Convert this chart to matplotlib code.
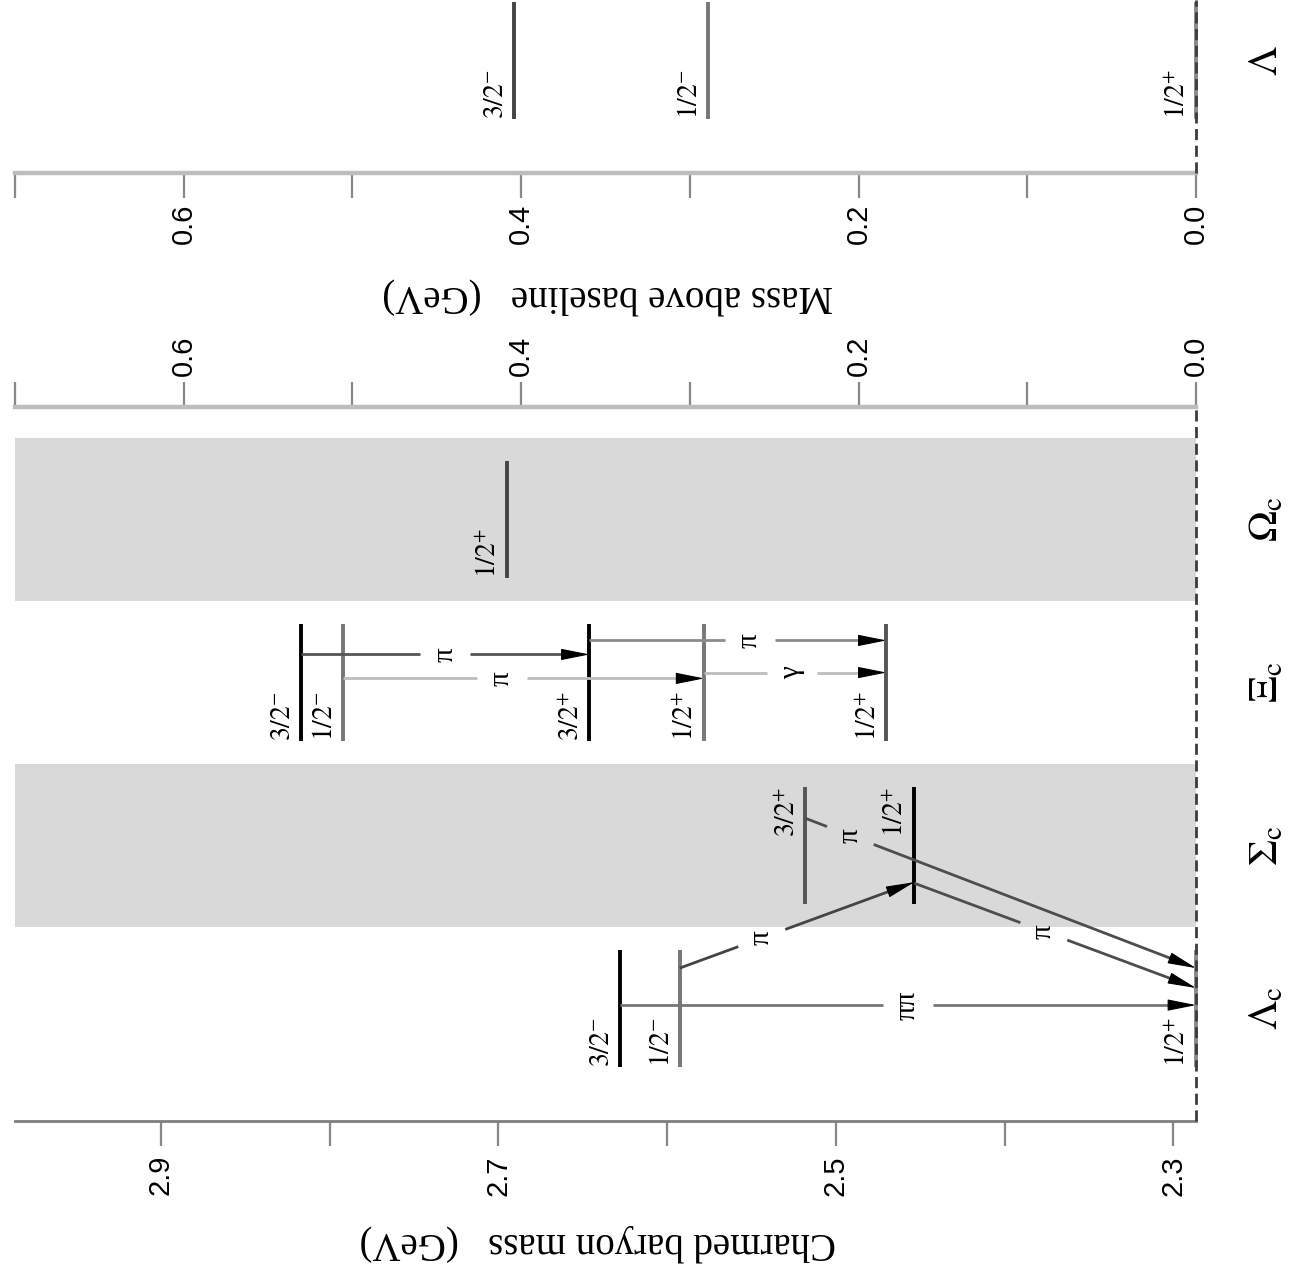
import matplotlib.pyplot as plt
from matplotlib.patches import FancyArrowPatch
import numpy as np

plt.rcParams['font.family'] = ['Liberation Serif', 'DejaVu Serif']
plt.rcParams['mathtext.fontset'] = 'stix'

# ---- data (masses in GeV) ----
m0 = 2.2865          # baseline = Lambda_c(2286)
span = 0.70          # mass range shown above the baseline

fam_names = [r'$\Lambda_{\rm c}$', r'$\Sigma_{\rm c}$', r'$\Xi_{\rm c}$', r'$\Omega_{\rm c}$']
fam_shaded = [False, True, False, True]

lev_fam = [0, 0, 0, 1, 1, 2, 2, 2, 2, 2, 3]
lev_mass = [2.2865, 2.5925, 2.628, 2.4535, 2.518, 2.470, 2.578, 2.646, 2.792, 2.817, 2.695]
lev_jp = ['1/2+', '1/2-', '3/2-', '1/2+', '3/2+', '1/2+', '1/2+', '3/2+', '1/2-', '3/2-', '1/2+']

# light Lambda, mass above Lambda(1116)
lam_mass = [0.0, 0.289, 0.404]
lam_jp = ['1/2+', '1/2-', '3/2-']

# transitions: from mass -> to mass, label
tr_from = [2.628, 2.5925, 2.4535, 2.518, 2.817, 2.792, 2.646, 2.578]
tr_to = [2.2865, 2.4535, 2.2865, 2.2865, 2.646, 2.578, 2.470, 2.470]
tr_lab = ['ππ', 'π', 'π', 'π', 'π', 'π', 'π', 'γ']

bottom_ticks = [2.3, 2.5, 2.7, 2.9]
bottom_minor = [2.4, 2.6, 2.8]
top_ticks = [0.0, 0.2, 0.4, 0.6]
top_minor = [0.1, 0.3, 0.5, 0.7]

# ---- styles / layout ----
lev_color = ['#8a8a8a', '#777777', 'black', 'black', '#555555', '#555555',
             '#777777', 'black', '#777777', 'black', '#444444']
lev_label_top = [False, False, False, True, True, False, False, False, False, False, False]
lam_color = ['#8a8a8a', '#777777', '#444444']
# rows (in family units) where the arrows start / end, label position along arrow
tr_row0 = [0.021, 0.248, 0.769, 1.167, 2.172, 2.025, 2.258, 2.061]
tr_row1 = [0.021, 0.775, 0.126, 0.248, 2.172, 2.025, 2.258, 2.061]
tr_t = [0.5, 0.35, 0.46, 0.115, 0.5, 0.44, 0.54, 0.48]
tr_color = ['#777777', '#444444', '#4d4d4d', '#4d4d4d', '#555555', '#bdbdbd', '#8c8c8c', '#bdbdbd']

W, H = 1291, 1274
fig = plt.figure(figsize=(W/100, H/100), dpi=100)

def fx(px):
    return px / W

def fy(py):
    return 1 - py / H

ax = fig.add_axes([fx(15), fy(1121), fx(1196)-fx(15), fy(407)-fy(1121)])
axL = fig.add_axes([fx(15), fy(173), fx(1196)-fx(15), fy(0)-fy(173)])

half = 0.36
ax.set_xlim(m0 + span, m0)
ax.set_ylim(-0.69, 3.69)
axL.set_xlim(span, 0)
axL.set_ylim(-0.69, -0.69 + 173/163.2)

tickkw = dict(length=18, width=1.6, color='#888888', direction='out')
labkw = dict(fontfamily='Liberation Sans', fontsize=21, rotation=90)

# main panel bottom axis: charmed baryon mass
for s in ['left', 'right', 'top']:
    ax.spines[s].set_visible(False)
ax.spines['bottom'].set_color('#7f7f7f')
ax.spines['bottom'].set_linewidth(2.0)
ax.set_yticks([])
ax.set_xticks(bottom_ticks, ['%.1f' % v for v in bottom_ticks], **labkw)
ax.set_xticks(bottom_minor, minor=True)
ax.tick_params(axis='x', which='both', pad=6.5, **tickkw)

# main panel top axis: mass above baseline
axT = ax.twiny()
axT.set_xlim(span, 0)
for s in ['left', 'right', 'bottom']:
    axT.spines[s].set_visible(False)
axT.spines['top'].set_color('#bdbdbd')
axT.spines['top'].set_linewidth(3.2)
axT.set_xticks(top_ticks, ['%.1f' % v for v in top_ticks], **labkw)
axT.set_xticks(top_minor, minor=True)
axT.tick_params(axis='x', which='both', pad=4.3, **tickkw)

# Lambda panel axis
for s in ['left', 'right', 'top']:
    axL.spines[s].set_visible(False)
axL.spines['bottom'].set_color('#bdbdbd')
axL.spines['bottom'].set_linewidth(3.2)
axL.set_yticks([])
axL.set_xticks(top_ticks, ['%.1f' % v for v in top_ticks], **labkw)
axL.set_xticks(top_minor, minor=True)
axL.tick_params(axis='x', which='both', pad=4.3, **tickkw)

# shaded families
for i, sh in enumerate(fam_shaded):
    if sh:
        ax.axhspan(i - 0.5, i + 0.5, color='#d9d9d9', lw=0, zorder=0)


def jp_text(s):
    return r'$%s^{%s}$' % (s[:-1], '+' if s[-1] == '+' else '-')


gap = 0.0065
for f, m, jp, c, top in zip(lev_fam, lev_mass, lev_jp, lev_color, lev_label_top):
    ax.plot([m, m], [f - half, f + half], color=c, lw=2.8, solid_capstyle='butt',
            zorder=2, clip_on=False)
    if top:
        ax.text(m + gap, f + half, jp_text(jp), rotation=90, rotation_mode='anchor',
                ha='right', va='baseline', fontsize=20, zorder=5)
    else:
        ax.text(m + gap, f - half, jp_text(jp), rotation=90, rotation_mode='anchor',
                ha='left', va='baseline', fontsize=20, zorder=5)

for m, jp, c in zip(lam_mass, lam_jp, lam_color):
    axL.plot([m, m], [-half, half], color=c, lw=2.8, solid_capstyle='butt',
             zorder=2, clip_on=False)
    axL.text(m + gap, -half, jp_text(jp), rotation=90, rotation_mode='anchor',
             ha='left', va='baseline', fontsize=20, zorder=5)

# transitions
for x0, x1, y0, y1, lab, t, c in zip(tr_from, tr_to, tr_row0, tr_row1, tr_lab, tr_t, tr_color):
    p0 = ax.transData.transform((x0, y0))
    p1 = ax.transData.transform((x1, y1))
    L = np.hypot(*(p1 - p0))
    g = 25.0 / L
    hl = 24.0 / L

    def pt(f):
        return x0 + f*(x1 - x0), y0 + f*(y1 - y0)

    a, b = pt(0), pt(t - g)
    ax.plot([a[0], b[0]], [a[1], b[1]], color=c, lw=2.0, solid_capstyle='butt', zorder=3)
    a, b = pt(t + g), pt(1 - hl*0.6)
    ax.plot([a[0], b[0]], [a[1], b[1]], color=c, lw=2.0, solid_capstyle='butt', zorder=3)
    ax.add_patch(FancyArrowPatch(pt(1 - hl), pt(1), arrowstyle='-|>,head_length=1.0,head_width=0.2',
                                 mutation_scale=18, color='black', lw=0.8,
                                 shrinkA=0, shrinkB=0, zorder=4))
    lx, ly = pt(t)
    ax.text(lx, ly, lab, rotation=90, ha='center', va='center', fontsize=21, zorder=5)

# dashed baseline
ax.axvline(m0, color='#3c3c3c', lw=2.0, ls=(0, (4, 2)), zorder=6, clip_on=False)
axL.axvline(0, color='#3c3c3c', lw=2.0, ls=(0, (4, 2)), zorder=6, clip_on=False)

# family labels
for i, name in enumerate(fam_names):
    ax.text(m0 - 0.042, i, name, rotation=90, ha='center', va='center', fontsize=30, clip_on=False)
axL.text(-0.042, 0, r'$\Lambda$', rotation=90, ha='center', va='center', fontsize=30, clip_on=False)

fig.text(fx(598), fy(1243), 'Charmed baryon mass   (GeV)', rotation=180,
         ha='center', va='center', fontsize=28)
fig.text(fx(608), fy(295), 'Mass above baseline   (GeV)', rotation=180,
         ha='center', va='center', fontsize=28)

fig.savefig('out.png', dpi=100)
